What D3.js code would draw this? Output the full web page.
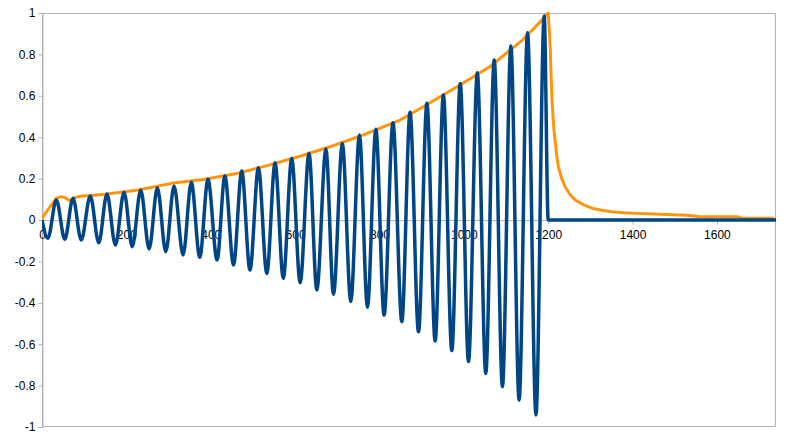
<!DOCTYPE html>
<html>
<head>
<meta charset="utf-8">
<script src="https://cdn.jsdelivr.net/npm/d3@7"></script>
<style>
  html, body { margin: 0; padding: 0; background: #fff; }
  svg { display: block; }
  text { font-family: "Liberation Sans", Arial, sans-serif; font-size: 12px; fill: #000; }
</style>
</head>
<body>
<svg id="chart" width="788" height="447"></svg>
<script>
// ---- data ----
const troughX = [14, 54, 93, 134.5, 174, 214, 254, 293.5, 334.5, 374, 415, 454, 493, 533, 572, 612, 651.5, 691, 732, 771.5, 811, 853, 892.5, 932, 971.5, 1011, 1052, 1091.5, 1131, 1171];
const troughY = [-0.088, -0.093, -0.097, -0.110, -0.121, -0.129, -0.140, -0.153, -0.169, -0.180, -0.193, -0.217, -0.242, -0.258, -0.282, -0.303, -0.338, -0.359, -0.394, -0.422, -0.459, -0.491, -0.540, -0.585, -0.631, -0.684, -0.741, -0.805, -0.870, -0.942];
const peakX = [34, 73.5, 114.5, 154, 194.5, 234, 273.5, 313, 354, 393.5, 433.5, 473.5, 513, 552.5, 592, 633, 673, 712, 752.5, 791.5, 832, 872.5, 912.5, 951.5, 991.5, 1032, 1072, 1111.5, 1151, 1190.5];
const peakY = [0.097, 0.105, 0.116, 0.126, 0.134, 0.145, 0.156, 0.164, 0.182, 0.197, 0.213, 0.237, 0.252, 0.276, 0.298, 0.322, 0.343, 0.370, 0.411, 0.438, 0.470, 0.520, 0.564, 0.604, 0.660, 0.711, 0.773, 0.841, 0.905, 0.985];
const blueStart = [0, 0];
const blueTailX = [1200, 1740];
const blueTailY = [0, 0];

const envX = [0, 2, 19, 34, 46, 54, 66, 78, 93, 117, 149, 228, 307, 386, 465, 525, 604, 683, 762, 849, 904, 984, 1062, 1141, 1189, 1200, 1203, 1205, 1207, 1209, 1213, 1217, 1221, 1224, 1232, 1240, 1252, 1264, 1284, 1304, 1327, 1351, 1378, 1406, 1450, 1529, 1560, 1648, 1663, 1736];
const envY = [0.005, 0.015, 0.064, 0.105, 0.113, 0.108, 0.093, 0.108, 0.116, 0.118, 0.124, 0.145, 0.177, 0.197, 0.226, 0.258, 0.303, 0.354, 0.411, 0.483, 0.547, 0.644, 0.741, 0.873, 0.974, 1.0, 0.90, 0.821, 0.69, 0.58, 0.45, 0.37, 0.30, 0.258, 0.20, 0.161, 0.122, 0.097, 0.073, 0.057, 0.047, 0.040, 0.035, 0.032, 0.029, 0.023, 0.016, 0.016, 0.008, 0.008];

const xTicks = [0, 200, 400, 600, 800, 1000, 1200, 1400, 1600];
const yTicks = [-1, -0.8, -0.6, -0.4, -0.2, 0, 0.2, 0.4, 0.6, 0.8, 1];
const xDomain = [0, 1740];
const yDomain = [-1, 1];

// ---- build series ----
const blue = [blueStart];
for (let i = 0; i < troughX.length; i++) {
  blue.push([troughX[i], troughY[i]]);
  blue.push([peakX[i], peakY[i]]);
}
for (let i = 0; i < blueTailX.length; i++) blue.push([blueTailX[i], blueTailY[i]]);
const env = envX.map((x, i) => [x, envY[i]]);

// ---- layout ----
const L = 42, R = 776, T = 13, B = 427;
const svg = d3.select("#chart");
const x = d3.scaleLinear().domain(xDomain).range([L, R]);
const y = d3.scaleLinear().domain(yDomain).range([B, T]);
const gridColor = "#b3b3b3";

// frame
svg.append("rect").attr("x", L + 0.5).attr("y", T + 0.5)
  .attr("width", R - L - 1).attr("height", B - T - 1)
  .attr("fill", "none").attr("stroke", gridColor).attr("stroke-width", 1);

// y axis
const yAxis = d3.axisLeft(y).tickValues(yTicks).tickSize(4).tickPadding(3)
  .tickFormat(d => d3.format("")(Math.round(d * 10) / 10).replace("−", "-"));
const gy = svg.append("g").attr("transform", `translate(${L + 0.5},0)`).call(yAxis);
gy.select(".domain").attr("stroke", gridColor);
gy.selectAll(".tick line").attr("stroke", gridColor);
gy.selectAll("text").style("font-size", "12px").attr("fill", "#000");

// x axis on the zero line
const xAxis = d3.axisBottom(x).tickValues(xTicks).tickSize(4).tickPadding(6).tickFormat(d3.format("d"));
const gx = svg.append("g").attr("transform", `translate(0,${Math.round(y(0)) + 0.5})`).call(xAxis);
gx.select(".domain").attr("stroke", gridColor).attr("d", `M${L},0H${R}`);
gx.selectAll(".tick line").attr("stroke", gridColor);
gx.selectAll("text").style("font-size", "12px").attr("fill", "#000");

// clip
svg.append("clipPath").attr("id", "plotclip").append("rect")
  .attr("x", L).attr("y", T - 1).attr("width", R - L).attr("height", B - T + 2);

const envLine = d3.line().x(d => x(d[0])).y(d => y(d[1])).curve(d3.curveLinear);
const waveLine = d3.line().x(d => x(d[0])).y(d => y(d[1])).curve(d3.curveMonotoneX);

svg.append("path").datum(env)
  .attr("clip-path", "url(#plotclip)")
  .attr("fill", "none").attr("stroke", "#ff950e").attr("stroke-width", 3)
  .attr("stroke-linejoin", "round").attr("d", envLine);

svg.append("path").datum(blue)
  .attr("clip-path", "url(#plotclip)")
  .attr("fill", "none").attr("stroke", "#004586").attr("stroke-width", 3.5)
  .attr("stroke-linejoin", "round").attr("d", waveLine);
</script>
</body>
</html>
